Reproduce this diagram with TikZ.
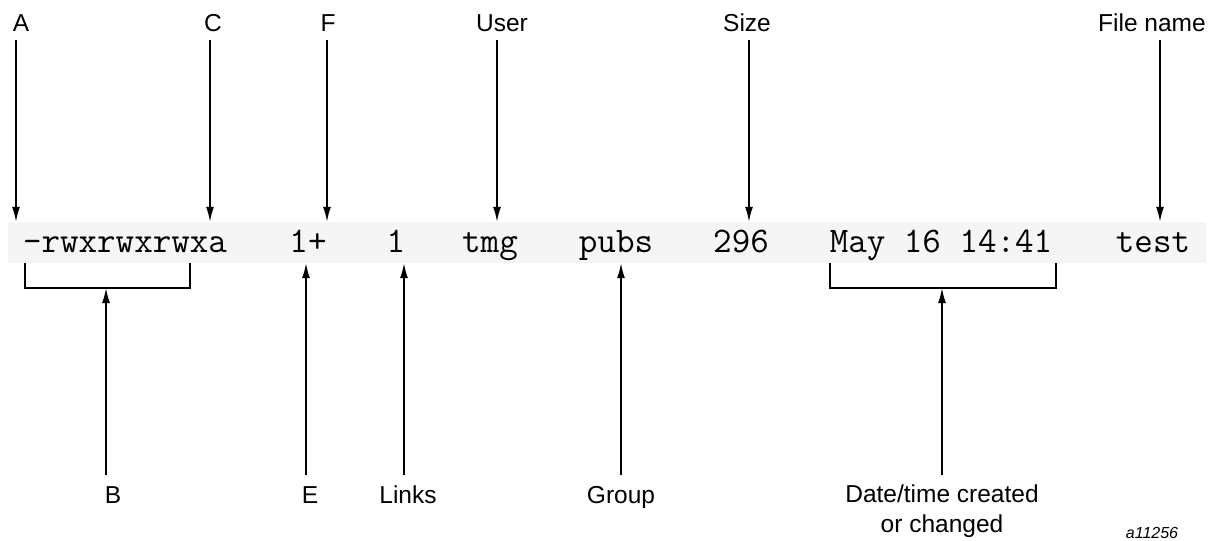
\documentclass[tikz,border=0pt]{standalone}
\usepackage{fontspec}
\setmainfont{Liberation Sans}
\usetikzlibrary{arrows.meta}

\tikzset{
  lbl/.style={font=\fontsize{24.5}{30}\selectfont, inner sep=0pt, anchor=base},
  field/.style={font=\ttfamily\fontsize{36}{40}\selectfont, inner sep=0pt, anchor=base},
  ptr/.style={line width=1.6pt, -{Latex[length=15pt,width=8pt]}},
  brk/.style={line width=1.6pt}
}

\begin{document}
\begin{tikzpicture}[x=1pt,y=-1pt]
    \useasboundingbox (0,0) rectangle (1224,541);
    \node[fill=black!4, minimum width=1198pt, minimum height=41pt, inner sep=0pt] (band) at (607,242.5) {};
    % listing fields
    \node[field] (perm)  at (125,252) {-rwxrwxrwxa};
    \node[field] (plus)  at (308,252) {1+};
    \node[field] (links) at (396,252) {1};
    \node[field] (user)  at (490,252) {tmg};
    \node[field] (group) at (616,252) {pubs};
    \node[field] (size)  at (741,252) {296};
    \node[field] (date)  at (941,252) {May 16 14:41};
    \node[field] (fname) at (1153,252) {test};
    % labels above
    \node[lbl] (A) at (21,31) {A};
    \node[lbl] (C) at (213,31) {C};
    \node[lbl] (F) at (328,31) {F};
    \node[lbl] (U) at (502,31) {User};
    \node[lbl] (S) at (747,31) {Size};
    \node[lbl] (N) at (1152,31) {File name};
    \coordinate (aA) at (16,0);
    \coordinate (aC) at (210,0);
    \coordinate (aF) at (327,0);
    \coordinate (aU) at (497,0);
    \coordinate (aS) at (749,0);
    \coordinate (aN) at (1160,0);
    \foreach \l in {A,C,F,U,S,N}
        \draw[ptr] ([yshift=-9pt]\l.base -| a\l) -- (a\l |- band.north);
    % brackets
    \coordinate (b1) at (25,263);
    \coordinate (b2) at (190,263);
    \coordinate (bB) at (106,288);
    \coordinate (d1) at (830,263);
    \coordinate (d2) at (1056,263);
    \coordinate (bD) at (942,288);
    \draw[brk] (b1) |- (bB) -| (b2);
    \draw[brk] (d1) |- (bD) -| (d2);
    % labels below
    \node[lbl] (B) at (113,503) {B};
    \node[lbl] (E) at (310,503) {E};
    \node[lbl] (L) at (408,503) {Links};
    \node[lbl] (G) at (621,503) {Group};
    \node[lbl, align=center, anchor=north] (D) at (942,485) {Date/time created\\or changed};
    \coordinate (aE) at (306,0);
    \coordinate (aL) at (404,0);
    \coordinate (aG) at (621,0);
    \draw[ptr] ([yshift=28pt]B.base -| bB) -- (bB);
    \draw[ptr] ([yshift=10pt]D.north -| bD) -- (bD);
    \foreach \l in {E,L,G}
        \draw[ptr] ([yshift=28pt]\l.base -| a\l) -- (a\l |- band.south);
    \node[font=\itshape\fontsize{16}{18}\selectfont, inner sep=0pt, anchor=base] (tag) at (1152,538) {a11256};
\end{tikzpicture}
\end{document}
